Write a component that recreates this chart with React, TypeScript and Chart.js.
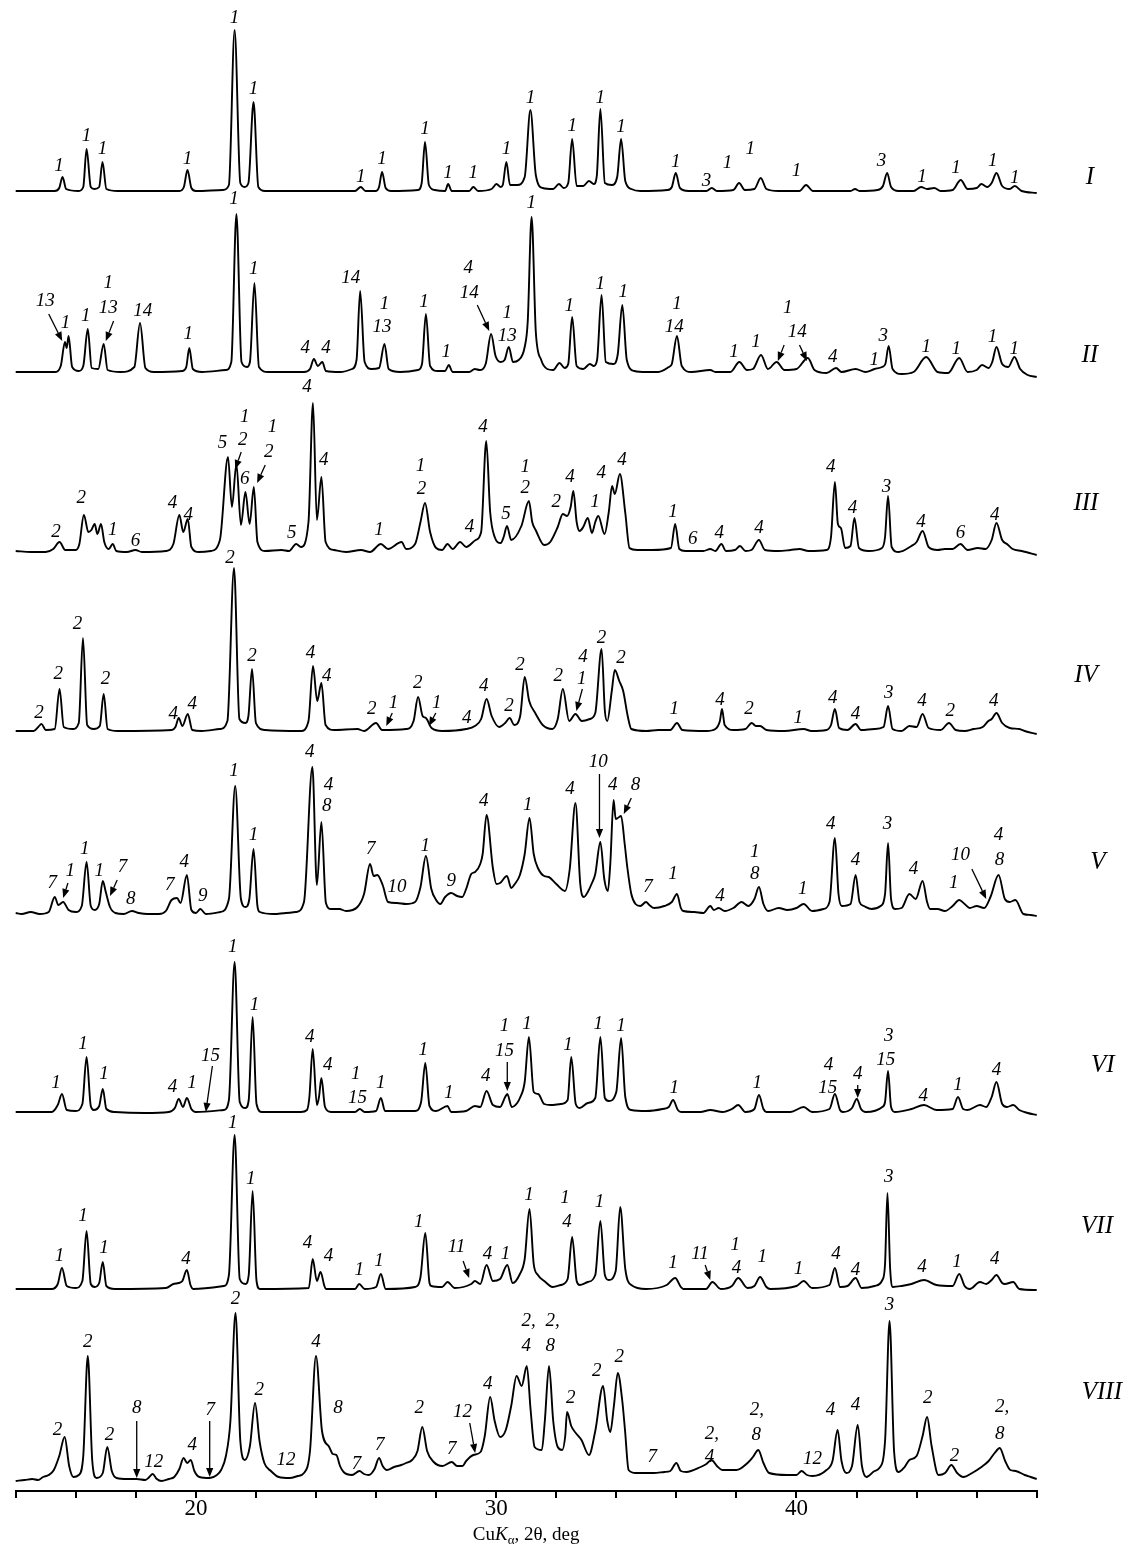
import React, { useEffect, useRef } from 'react';
import { Chart, registerables } from 'chart.js';

Chart.register(...registerables);

type P = [number, number];
type L = [number, number, string];
type A = [number, number, number, number];

// ---------------- data: sample names ----------------
const SAMPLE_NAMES: string[] = ['I', 'II', 'III', 'IV', 'V', 'VI', 'VII', 'VIII'];

// x axis (2θ, deg)
const X_MIN = 14;
const X_MAX = 48;
const X_STEP = 2;
const X_LABELED_TICKS: number[] = [20, 30, 40];

// ---------------- data: traces [2θ, intensity a.u.] ----------------
const TRACE_I: P[] = [[14.0,0],[15.3,0],[15.45,3],[15.56,14],[15.68,2],[16.1,0],[16.25,4],[16.36,42],[16.5,4],[16.62,2],[16.78,4],[16.89,29],[17.02,2],[17.4,0],[19.45,0],[19.6,4],[19.72,21],[19.85,3],[20.0,0],[20.9,1],[21.1,6],[21.29,161],[21.48,8],[21.62,4],[21.75,8],[21.92,89],[22.08,4],[22.3,0],[25.3,0],[25.49,4],[25.65,0],[26.0,0],[26.1,4],[26.2,19],[26.32,3],[26.5,0],[27.4,1],[27.52,8],[27.63,49],[27.76,6],[27.95,1],[28.3,0],[28.4,7],[28.52,0],[29.1,0],[29.24,4],[29.4,0],[29.85,2],[30.01,7],[30.15,4],[30.22,6],[30.34,29],[30.46,6],[30.7,6],[30.95,14],[31.14,81],[31.32,16],[31.55,3],[31.9,2],[32.09,7],[32.25,3],[32.4,8],[32.53,52],[32.68,5],[32.9,5],[33.09,10],[33.25,7],[33.35,15],[33.47,82],[33.62,8],[33.85,6],[34.03,14],[34.16,52],[34.3,10],[34.5,2],[34.8,0],[35.7,1],[35.85,4],[35.98,18],[36.12,3],[36.4,0],[37.0,0],[37.18,3],[37.35,0],[37.9,1],[38.09,8],[38.28,1],[38.6,2],[38.81,13],[39.0,2],[39.4,0],[40.1,0],[40.32,6],[40.55,0],[41.8,0],[41.95,2],[42.1,0],[42.7,1],[42.88,5],[43.02,18],[43.15,4],[43.4,0],[43.9,0],[44.15,4],[44.35,2],[44.59,3],[44.8,0],[45.2,1],[45.47,11],[45.7,2],[46.0,3],[46.16,7],[46.35,4],[46.5,8],[46.66,18],[46.85,5],[47.1,2],[47.27,5],[47.5,0],[48.0,-2]];

const TRACE_II: P[] = [[14.0,0],[15.3,0],[15.5,6],[15.64,30],[15.7,24],[15.76,36],[15.88,5],[16.1,1],[16.25,6],[16.4,43],[16.53,4],[16.75,3],[16.93,28],[17.06,2],[17.5,0],[17.95,5],[18.14,49],[18.32,4],[18.6,0],[19.55,1],[19.68,5],[19.78,24],[19.9,3],[20.2,0],[21.0,2],[21.18,10],[21.35,158],[21.52,10],[21.7,5],[21.8,10],[21.95,89],[22.1,5],[22.4,0],[23.6,0],[23.8,3],[23.93,13],[24.06,6],[24.21,10],[24.33,1],[24.8,0],[25.2,3],[25.35,12],[25.47,81],[25.62,10],[25.85,3],[26.1,4],[26.28,28],[26.42,3],[26.8,0],[27.4,2],[27.53,8],[27.66,58],[27.8,6],[28.05,1],[28.3,1],[28.42,7],[28.55,0],[29.1,0],[29.29,3],[29.45,2],[29.65,8],[29.83,38],[29.98,16],[30.15,10],[30.28,12],[30.42,25],[30.56,10],[30.75,12],[30.95,25],[31.05,50],[31.18,155],[31.32,40],[31.5,12],[31.7,3],[31.9,2],[32.11,9],[32.28,4],[32.4,8],[32.53,55],[32.68,6],[32.9,3],[33.12,8],[33.25,6],[33.36,12],[33.51,77],[33.65,10],[33.9,8],[34.05,18],[34.2,67],[34.35,12],[34.6,1],[35.0,0],[35.4,0],[35.75,5],[35.85,8],[36.02,36],[36.18,6],[36.5,0],[37.13,2],[37.3,0],[37.8,0],[38.1,10],[38.35,2],[38.55,3],[38.82,17],[39.05,3],[39.34,10],[39.6,2],[40.0,3],[40.38,14],[40.6,2],[41.0,-1],[41.32,4],[41.5,0],[41.97,3],[42.3,0],[42.6,3],[42.85,5],[42.96,8],[43.07,26],[43.2,3],[43.5,-2],[43.9,0],[44.32,15],[44.7,0],[45.05,-1],[45.42,14],[45.7,0],[46.0,2],[46.18,7],[46.4,4],[46.52,10],[46.66,25],[46.85,8],[47.05,5],[47.26,15],[47.45,3],[47.7,-3],[48.0,-5]];

const TRACE_III: P[] = [[14.0,1],[14.5,0],[15.0,0],[15.25,3],[15.46,10],[15.65,2],[16.0,2],[16.12,8],[16.27,37],[16.42,20],[16.52,22],[16.63,28],[16.72,18],[16.84,28],[16.95,10],[17.1,3],[17.23,8],[17.35,1],[17.7,0],[17.99,2],[18.2,0],[19.0,1],[19.25,8],[19.45,37],[19.58,20],[19.73,33],[19.85,5],[20.1,0],[20.5,1],[20.8,12],[21.07,95],[21.2,45],[21.35,88],[21.5,27],[21.65,60],[21.79,28],[21.93,65],[22.05,10],[22.3,1],[22.85,2],[23.1,1],[23.34,8],[23.5,5],[23.75,30],[23.9,149],[24.03,32],[24.18,75],[24.32,10],[24.6,2],[25.0,0],[25.5,2],[25.8,0],[26.16,8],[26.4,3],[26.85,10],[27.0,3],[27.3,8],[27.48,30],[27.63,49],[27.8,20],[28.0,4],[28.2,2],[28.38,8],[28.55,3],[28.8,10],[29.0,5],[29.32,12],[29.5,20],[29.67,111],[29.8,40],[29.95,15],[30.15,9],[30.25,15],[30.36,26],[30.5,12],[30.84,26],[31.09,51],[31.2,30],[31.33,21],[31.6,7],[31.8,10],[32.05,25],[32.22,38],[32.36,36],[32.48,45],[32.57,61],[32.68,30],[32.78,21],[32.9,25],[33.05,34],[33.19,19],[33.3,30],[33.4,36],[33.61,18],[33.75,40],[33.86,66],[33.95,58],[34.12,78],[34.3,39],[34.44,4],[34.7,2],[35.2,2],[35.82,4],[35.96,28],[36.1,3],[36.3,1],[36.9,1],[37.13,3],[37.3,1],[37.5,8],[37.65,1],[37.95,2],[38.12,6],[38.3,1],[38.5,2],[38.75,12],[38.95,2],[39.4,1],[39.8,2],[40.1,3],[40.4,1],[41.0,2],[41.15,15],[41.28,70],[41.38,28],[41.48,24],[41.62,4],[41.8,6],[41.93,34],[42.08,4],[42.4,1],[42.85,4],[42.95,15],[43.05,56],[43.17,5],[43.4,0],[43.83,6],[44.0,10],[44.2,21],[44.4,5],[44.7,2],[44.94,3],[45.2,3],[45.46,8],[45.7,2],[46.04,4],[46.3,3],[46.5,12],[46.66,29],[46.85,12],[47.01,8],[47.2,3],[47.5,1],[48.0,-3]];

const TRACE_IV: P[] = [[14.0,0],[14.6,0],[14.75,4],[14.86,7],[15.0,1],[15.3,2],[15.46,42],[15.6,4],[15.9,2],[16.1,8],[16.24,93],[16.38,6],[16.6,2],[16.8,5],[16.93,37],[17.06,2],[17.4,0],[19.2,1],[19.32,4],[19.43,13],[19.55,5],[19.73,17],[19.88,1],[20.2,0],[20.8,2],[21.05,10],[21.27,163],[21.45,12],[21.65,8],[21.75,15],[21.87,62],[22.0,8],[22.3,1],[23.5,0],[23.75,10],[23.9,65],[24.04,30],[24.18,48],[24.32,6],[24.6,1],[25.38,2],[25.6,0],[26.0,8],[26.2,1],[27.0,2],[27.25,10],[27.4,34],[27.55,15],[27.66,13],[27.85,3],[28.2,0],[29.0,2],[29.29,5],[29.5,12],[29.68,32],[29.85,15],[30.1,4],[30.3,8],[30.45,13],[30.6,6],[30.8,15],[30.95,54],[31.1,30],[31.3,18],[31.55,6],[31.87,2],[32.05,12],[32.22,42],[32.43,10],[32.64,17],[32.85,10],[33.12,12],[33.3,18],[33.51,82],[33.62,20],[33.7,10],[33.85,40],[33.95,61],[34.1,50],[34.23,40],[34.38,15],[34.5,2],[35.0,0],[35.4,1],[35.8,1],[36.02,8],[36.2,1],[37.0,0],[37.3,2],[37.45,10],[37.52,22],[37.61,6],[37.9,1],[38.3,2],[38.51,8],[38.65,5],[38.79,5],[39.0,1],[39.6,0],[40.24,2],[40.5,0],[41.0,1],[41.15,6],[41.28,22],[41.42,3],[41.7,1],[41.97,7],[42.15,1],[42.59,2],[42.9,4],[43.05,25],[43.2,2],[43.5,0],[43.76,5],[44.0,4],[44.2,17],[44.4,3],[44.8,1],[45.08,8],[45.3,1],[45.6,0],[45.9,2],[46.2,4],[46.39,10],[46.5,12],[46.66,18],[46.85,8],[47.1,3],[47.42,2],[47.6,0],[48.0,-3]];

const TRACE_V: P[] = [[14.0,1],[14.2,0],[14.5,2],[14.8,0],[15.1,2],[15.3,17],[15.42,9],[15.58,12],[15.76,4],[16.0,2],[16.2,8],[16.36,52],[16.5,8],[16.63,4],[16.78,10],[16.9,33],[17.0,22],[17.14,7],[17.32,1],[17.6,0],[17.87,3],[18.1,1],[18.4,0],[18.77,0],[19.0,3],[19.19,14],[19.37,16],[19.49,11],[19.7,39],[19.85,4],[20.0,1],[20.15,5],[20.33,0],[20.81,2],[21.1,15],[21.31,128],[21.5,15],[21.65,7],[21.78,15],[21.92,65],[22.05,8],[22.13,2],[22.6,0],[23.0,1],[23.33,2],[23.6,12],[23.88,147],[24.03,29],[24.18,92],[24.33,11],[24.5,5],[24.78,5],[25.0,3],[25.38,7],[25.6,20],[25.8,50],[25.92,38],[26.04,39],[26.22,29],[26.4,12],[26.7,11],[27.0,10],[27.3,12],[27.48,27],[27.66,58],[27.84,25],[28.0,14],[28.14,10],[28.3,17],[28.5,21],[28.7,18],[28.87,17],[29.0,25],[29.17,40],[29.3,42],[29.47,50],[29.55,60],[29.68,99],[29.89,46],[30.01,30],[30.13,31],[30.36,38],[30.5,26],[30.62,30],[30.79,39],[30.95,60],[31.11,96],[31.25,60],[31.39,46],[31.6,38],[31.75,37],[32.0,30],[32.29,23],[32.45,45],[32.64,111],[32.8,30],[32.92,17],[33.05,22],[33.19,31],[33.3,40],[33.47,72],[33.6,35],[33.72,23],[33.8,50],[33.91,114],[33.98,95],[34.05,96],[34.16,98],[34.28,70],[34.37,46],[34.5,20],[34.64,10],[34.8,8],[34.99,12],[35.1,9],[35.26,6],[35.6,8],[35.85,12],[36.02,20],[36.15,6],[36.23,3],[36.6,2],[36.9,1],[37.13,8],[37.25,4],[37.41,6],[37.61,3],[37.9,6],[38.17,12],[38.4,8],[38.6,15],[38.75,27],[38.9,10],[39.06,3],[39.41,6],[39.7,4],[40.0,6],[40.24,10],[40.52,3],[40.9,5],[41.1,12],[41.28,76],[41.4,20],[41.51,8],[41.8,10],[41.97,39],[42.1,12],[42.24,8],[42.5,5],[42.8,8],[42.95,20],[43.05,71],[43.15,15],[43.28,5],[43.5,6],[43.76,20],[43.97,15],[44.2,33],[44.35,12],[44.45,5],[44.7,5],[44.94,3],[45.2,8],[45.42,14],[45.6,10],[45.77,6],[46.0,8],[46.25,6],[46.46,17],[46.73,39],[46.94,15],[47.1,12],[47.29,14],[47.56,0],[47.8,-1],[48.0,-2]];

const TRACE_VI: P[] = [[14.0,0],[15.2,0],[15.4,7],[15.54,18],[15.7,2],[16.0,1],[16.22,8],[16.36,55],[16.5,6],[16.6,2],[16.78,6],[16.9,23],[17.02,3],[17.3,0],[18.29,-1],[19.1,0],[19.3,4],[19.43,13],[19.57,5],[19.7,14],[19.85,3],[20.0,0],[20.93,2],[21.1,12],[21.29,150],[21.46,10],[21.65,4],[21.76,12],[21.89,95],[22.02,8],[22.2,0],[23.5,0],[23.7,2],[23.78,15],[23.89,63],[24.03,7],[24.1,15],[24.18,34],[24.3,5],[24.5,0],[25.3,0],[25.46,3],[25.62,0],[26.0,1],[26.16,14],[26.3,1],[27.3,1],[27.5,10],[27.64,49],[27.78,6],[28.0,1],[28.38,6],[28.5,0],[29.0,1],[29.29,6],[29.47,5],[29.68,21],[29.89,7],[30.13,5],[30.3,15],[30.37,18],[30.52,5],[30.7,9],[30.79,14],[30.95,30],[31.09,75],[31.25,20],[31.4,18],[31.6,8],[31.81,7],[32.15,8],[32.38,12],[32.5,55],[32.65,8],[32.78,4],[33.05,9],[33.3,14],[33.47,75],[33.62,14],[33.75,11],[34.0,20],[34.16,74],[34.3,15],[34.5,2],[35.0,1],[35.54,3],[35.75,5],[35.89,12],[36.05,2],[36.16,0],[36.8,0],[37.13,2],[37.54,0],[37.85,3],[38.06,7],[38.3,0],[38.6,3],[38.75,17],[38.9,3],[39.0,0],[39.8,0],[40.24,5],[40.52,0],[41.1,3],[41.28,18],[41.45,2],[41.55,0],[41.85,4],[42.01,13],[42.15,3],[42.31,0],[42.86,5],[42.95,10],[43.05,41],[43.15,5],[43.28,0],[43.83,3],[44.25,7],[44.66,2],[45.2,3],[45.38,15],[45.55,3],[45.7,2],[46.11,7],[46.32,5],[46.5,15],[46.66,30],[46.85,8],[47.01,5],[47.22,7],[47.42,2],[47.7,-1],[48.0,-3]];

const TRACE_VII: P[] = [[14.0,0],[15.2,0],[15.4,5],[15.54,21],[15.7,3],[16.0,1],[16.22,8],[16.36,58],[16.5,5],[16.63,2],[16.78,6],[16.9,27],[17.02,3],[17.3,0],[19.0,1],[19.25,5],[19.43,6],[19.55,8],[19.7,19],[19.82,4],[19.91,0],[20.93,3],[21.1,14],[21.29,154],[21.46,10],[21.65,5],[21.76,14],[21.89,98],[22.02,8],[22.13,0],[23.76,1],[23.89,30],[24.03,8],[24.15,17],[24.28,3],[24.33,0],[25.3,0],[25.44,5],[25.62,0],[26.0,2],[26.16,15],[26.32,0],[27.3,2],[27.48,12],[27.64,56],[27.78,6],[27.84,3],[28.2,2],[28.38,7],[28.62,1],[29.17,5],[29.29,8],[29.47,5],[29.68,24],[29.89,8],[30.13,10],[30.37,24],[30.55,6],[30.79,15],[30.95,30],[31.11,80],[31.25,25],[31.39,14],[31.6,8],[31.88,2],[32.15,4],[32.38,10],[32.53,52],[32.68,8],[32.78,4],[33.05,7],[33.3,14],[33.47,68],[33.62,14],[33.75,9],[33.98,18],[34.13,82],[34.3,20],[34.5,4],[34.99,0],[35.68,4],[35.96,11],[36.15,2],[36.23,0],[36.99,0],[37.2,7],[37.48,0],[37.85,3],[38.06,11],[38.37,1],[38.6,3],[38.79,12],[39.0,2],[39.13,0],[40.0,3],[40.24,8],[40.52,1],[41.1,4],[41.28,21],[41.45,2],[41.7,3],[41.97,11],[42.17,1],[42.6,3],[42.86,9],[42.95,25],[43.03,96],[43.12,20],[43.21,2],[43.5,3],[43.83,5],[44.25,9],[44.66,4],[45.2,3],[45.42,15],[45.6,3],[45.77,0],[46.11,7],[46.32,5],[46.5,9],[46.66,14],[46.85,6],[46.94,5],[47.22,7],[47.42,0],[48.0,-1]];

const TRACE_VIII: P[] = [[14.0,0],[14.3,1],[14.55,2],[14.75,1],[14.91,4],[15.1,6],[15.27,11],[15.45,25],[15.63,44],[15.78,15],[15.92,4],[16.1,6],[16.25,25],[16.4,125],[16.55,20],[16.69,3],[16.9,8],[17.05,34],[17.2,10],[17.36,3],[17.72,2],[18.03,2],[18.32,1],[18.45,4],[18.56,7],[18.7,2],[18.85,0],[19.1,2],[19.28,4],[19.45,12],[19.59,23],[19.71,18],[19.83,21],[19.95,10],[20.12,4],[20.46,3],[20.7,6],[20.84,11],[21.0,25],[21.15,60],[21.32,168],[21.48,40],[21.63,21],[21.8,35],[21.97,78],[22.12,40],[22.28,18],[22.5,10],[22.76,4],[23.12,3],[23.4,5],[23.6,8],[23.8,30],[24.0,125],[24.2,50],[24.44,34],[24.56,27],[24.68,26],[24.8,15],[24.92,9],[25.2,6],[25.45,10],[25.6,7],[25.76,6],[25.95,12],[26.1,23],[26.22,15],[26.36,11],[26.6,14],[26.84,16],[27.0,18],[27.2,21],[27.38,30],[27.54,54],[27.7,30],[27.92,19],[28.21,15],[28.52,19],[28.7,15],[28.88,15],[29.0,20],[29.24,26],[29.48,29],[29.62,45],[29.8,84],[29.95,60],[30.13,44],[30.32,51],[30.5,75],[30.68,105],[30.85,95],[31.02,115],[31.15,70],[31.28,34],[31.52,31],[31.62,60],[31.76,115],[31.9,60],[32.05,34],[32.2,31],[32.3,45],[32.36,69],[32.5,55],[32.65,48],[32.84,41],[33.09,26],[33.3,50],[33.56,95],[33.7,60],[33.8,49],[33.92,75],[34.05,108],[34.2,80],[34.29,51],[34.41,11],[34.65,8],[35.25,8],[35.6,9],[35.8,10],[36.0,18],[36.15,10],[36.33,9],[36.81,14],[37.0,17],[37.17,21],[37.35,15],[37.53,11],[38.0,11],[38.37,18],[38.55,24],[38.73,31],[38.9,18],[39.09,8],[39.69,6],[40.0,6],[40.17,10],[40.35,6],[40.53,5],[41.0,11],[41.2,20],[41.37,51],[41.5,20],[41.66,8],[41.85,15],[42.04,56],[42.18,15],[42.33,4],[42.6,10],[42.76,13],[42.95,40],[43.1,160],[43.25,30],[43.4,9],[43.6,14],[43.76,21],[44.0,25],[44.2,45],[44.35,64],[44.5,35],[44.73,6],[44.95,8],[45.16,16],[45.35,8],[45.56,4],[45.85,8],[46.16,14],[46.4,20],[46.6,28],[46.77,33],[46.95,20],[47.12,11],[47.3,10],[47.6,6],[47.8,4],[48.0,2]];

// ---------------- data: phase labels [2θ, intensity, text] ----------------
const LABELS_I: L[] = [[15.44,25,'1'],[16.36,55,'1'],[16.89,42,'1'],[19.72,32,'1'],[21.29,173,'1'],[21.92,102,'1'],[25.49,14,'1'],[26.2,32,'1'],[27.63,62,'1'],[28.4,18,'1'],[29.24,18,'1'],[30.34,42,'1'],[31.14,93,'1'],[32.53,65,'1'],[33.47,93,'1'],[34.16,64,'1'],[35.98,29,'1'],[37.0,10,'3'],[37.7,28,'1'],[38.46,42,'1'],[40.0,20,'1'],[42.83,30,'3'],[44.18,14,'1'],[45.31,23,'1'],[46.54,30,'1'],[47.27,13,'1']];
const LABELS_II: L[] = [[14.98,71,'13'],[15.66,49,'1'],[16.33,56,'1'],[17.08,89,'1'],[17.08,64,'13'],[18.23,61,'14'],[19.75,38,'1'],[21.27,173,'1'],[21.93,103,'1'],[23.64,24,'4'],[24.33,24,'4'],[25.16,94,'14'],[26.28,68,'1'],[26.2,45,'13'],[27.6,70,'1'],[28.34,20,'1'],[29.07,104,'4'],[29.1,79,'14'],[30.37,59,'1'],[30.37,36,'13'],[31.17,169,'1'],[32.43,66,'1'],[33.47,88,'1'],[34.23,80,'1'],[36.02,68,'1'],[35.93,45,'14'],[37.92,20,'1'],[38.65,30,'1'],[39.71,64,'1'],[40.03,40,'14'],[41.21,15,'4'],[42.59,12,'1'],[42.89,36,'3'],[44.32,25,'1'],[45.32,23,'1'],[46.53,35,'1'],[47.25,23,'1']];
const LABELS_III: L[] = [[15.34,20,'2'],[16.18,54,'2'],[17.23,22,'1'],[17.99,11,'6'],[19.22,49,'4'],[19.75,37,'4'],[20.89,109,'5'],[21.63,135,'1'],[21.56,112,'2'],[21.63,73,'6'],[22.55,125,'1'],[22.43,100,'2'],[23.19,19,'5'],[23.7,165,'4'],[24.26,92,'4'],[26.1,22,'1'],[27.48,86,'1'],[27.51,63,'2'],[29.11,25,'4'],[29.56,125,'4'],[30.33,38,'5'],[30.97,85,'1'],[30.97,64,'2'],[32.0,50,'2'],[32.46,75,'4'],[33.29,50,'1'],[33.5,79,'4'],[34.19,92,'4'],[35.89,40,'1'],[36.55,13,'6'],[37.43,19,'4'],[38.75,24,'4'],[41.14,85,'4'],[41.87,44,'4'],[43.0,65,'3'],[44.15,30,'4'],[45.46,19,'6'],[46.6,37,'4']];
const LABELS_IV: L[] = [[14.78,18,'2'],[15.42,57,'2'],[16.06,107,'2'],[16.99,52,'2'],[19.25,17,'4'],[19.88,27,'4'],[21.14,173,'2'],[21.87,75,'2'],[23.82,78,'4'],[24.36,55,'4'],[25.86,22,'2'],[26.58,28,'1'],[27.39,48,'2'],[28.02,28,'1'],[29.02,13,'4'],[29.59,45,'4'],[30.43,25,'2'],[30.79,66,'2'],[32.07,55,'2'],[32.89,74,'4'],[32.85,52,'1'],[33.51,93,'2'],[34.16,73,'2'],[35.93,22,'1'],[37.45,31,'4'],[38.42,22,'2'],[40.06,13,'1'],[41.21,33,'4'],[41.97,17,'4'],[43.07,38,'3'],[44.18,30,'4'],[45.12,20,'2'],[46.57,30,'4']];
const LABELS_V: L[] = [[15.22,31,'7'],[15.82,43,'1'],[16.3,65,'1'],[16.78,43,'1'],[17.56,47,'7'],[17.83,15,'8'],[19.13,29,'7'],[19.61,52,'4'],[20.23,18,'9'],[21.27,143,'1'],[21.92,79,'1'],[23.79,162,'4'],[24.42,129,'4'],[24.36,108,'8'],[25.82,65,'7'],[26.7,27,'10'],[27.64,68,'1'],[28.5,33,'9'],[29.59,113,'4'],[31.05,109,'1'],[32.46,125,'4'],[33.4,152,'10'],[33.88,129,'4'],[34.64,129,'8'],[35.06,27,'7'],[35.89,40,'1'],[37.45,18,'4'],[38.61,62,'1'],[38.61,40,'8'],[40.21,25,'1'],[41.14,90,'4'],[41.97,54,'4'],[43.03,90,'3'],[43.9,45,'4'],[45.24,31,'1'],[45.46,59,'10'],[46.73,79,'4'],[46.76,54,'8']];
const LABELS_VI: L[] = [[15.34,29,'1'],[16.24,68,'1'],[16.94,38,'1'],[19.22,25,'4'],[19.87,29,'1'],[20.49,56,'15'],[21.23,165,'1'],[21.95,107,'1'],[23.79,75,'4'],[24.39,47,'4'],[25.32,38,'1'],[25.38,14,'15'],[26.16,29,'1'],[27.57,62,'1'],[28.42,19,'1'],[29.65,36,'4'],[30.28,86,'1'],[30.28,61,'15'],[31.03,88,'1'],[32.39,67,'1'],[33.4,88,'1'],[34.16,86,'1'],[35.93,24,'1'],[38.69,29,'1'],[41.07,47,'4'],[41.04,24,'15'],[42.04,38,'4'],[43.07,76,'3'],[42.97,52,'15'],[44.22,16,'4'],[45.38,27,'1'],[46.66,42,'4']];
const LABELS_VII: L[] = [[15.46,33,'1'],[16.24,73,'1'],[16.94,41,'1'],[19.67,30,'4'],[21.23,166,'1'],[21.83,110,'1'],[23.72,46,'4'],[24.42,33,'4'],[25.44,19,'1'],[26.1,28,'1'],[27.42,67,'1'],[28.68,42,'11'],[29.71,35,'4'],[30.31,35,'1'],[31.09,94,'1'],[32.29,91,'1'],[32.36,67,'4'],[33.44,87,'1'],[35.89,26,'1'],[36.79,35,'11'],[37.96,44,'1'],[38.0,21,'4'],[38.86,32,'1'],[40.07,20,'1'],[41.32,35,'4'],[41.97,19,'4'],[43.07,112,'3'],[44.18,22,'4'],[45.35,27,'1'],[46.6,30,'4']];
const LABELS_VIII: L[] = [[15.39,51,'2'],[16.4,139,'2'],[17.12,46,'2'],[18.03,73,'8'],[18.6,19,'12'],[19.88,36,'4'],[20.48,71,'7'],[21.32,182,'2'],[22.11,91,'2'],[23.0,21,'12'],[24.0,139,'4'],[24.73,73,'8'],[25.35,17,'7'],[26.12,36,'7'],[27.44,73,'2'],[28.52,32,'7'],[28.88,69,'12'],[29.72,97,'4'],[31.0,160,'2,'],[31.0,135,'4'],[31.8,160,'2,'],[31.8,135,'8'],[32.48,83,'2'],[33.35,110,'2'],[34.1,124,'2'],[35.2,24,'7'],[37.1,47,'2,'],[37.1,24,'4'],[38.6,71,'2,'],[38.66,46,'8'],[40.53,22,'12'],[41.13,71,'4'],[41.97,76,'4'],[43.1,176,'3'],[44.37,83,'2'],[45.26,25,'2'],[46.77,74,'2,'],[46.77,47,'8']];

// ---------------- data: arrows [x1, y1, x2, y2] in (2θ, intensity) ----------------
const ARROWS_I: A[] = [];
const ARROWS_II: A[] = [[15.1,58,15.55,31],[17.26,51,17.0,31],[29.37,67,29.77,41],[39.59,27,39.38,11],[40.1,27,40.35,11]];
const ARROWS_III: A[] = [[21.51,100,21.31,83],[22.31,87,22.04,69]];
const ARROWS_IV: A[] = [[26.54,18,26.34,5],[27.99,18,27.76,5],[32.87,42,32.67,20]];
const ARROWS_V: A[] = [[15.74,31,15.58,16],[17.38,34,17.14,18],[33.44,140,33.44,76],[34.5,116,34.25,100],[45.84,45,46.32,15]];
const ARROWS_VI: A[] = [[20.55,46,20.33,0],[30.37,50,30.37,21],[42.04,27,42.04,14]];
const ARROWS_VII: A[] = [[28.9,28,29.1,11],[36.96,24,37.13,9]];
const ARROWS_VIII: A[] = [[18.03,60,18.03,3],[20.46,60,20.46,4],[29.12,58,29.3,28]];

const TRACES: P[][] = [TRACE_I, TRACE_II, TRACE_III, TRACE_IV, TRACE_V, TRACE_VI, TRACE_VII, TRACE_VIII];
const LABELS: L[][] = [LABELS_I, LABELS_II, LABELS_III, LABELS_IV, LABELS_V, LABELS_VI, LABELS_VII, LABELS_VIII];
const ARROWS: A[][] = [ARROWS_I, ARROWS_II, ARROWS_III, ARROWS_IV, ARROWS_V, ARROWS_VI, ARROWS_VII, ARROWS_VIII];

// ---------------- layout (not data) ----------------
const W = 1131;
const H = 1546;
const AXIS_H = 55;
const PLOT_BOTTOM = H - AXIS_H;
const BASELINE_Y = [191, 372, 552, 731, 914, 1112, 1289, 1481];
const NAME_POS: [number, number][] = [[49.77, 14], [49.77, 17], [49.64, 49], [49.64, 56], [50.04, 52], [50.2, 47], [50.01, 63], [50.17, 89]];
const SERIF = '"Liberation Serif", "Times New Roman", serif';

function drawArrow(ctx: CanvasRenderingContext2D, x1: number, y1: number, x2: number, y2: number) {
  const ang = Math.atan2(y2 - y1, x2 - x1);
  const hl = 9, hw = 3.6;
  const bx = x2 - hl * Math.cos(ang);
  const by = y2 - hl * Math.sin(ang);
  ctx.beginPath();
  ctx.moveTo(x1, y1);
  ctx.lineTo(bx, by);
  ctx.lineWidth = 1.3;
  ctx.stroke();
  ctx.beginPath();
  ctx.moveTo(x2, y2);
  ctx.lineTo(bx + hw * Math.sin(ang), by - hw * Math.cos(ang));
  ctx.lineTo(bx - hw * Math.sin(ang), by + hw * Math.cos(ang));
  ctx.closePath();
  ctx.fill();
}

export default function App() {
  const ref = useRef<HTMLCanvasElement | null>(null);

  useEffect(() => {
    const canvas = ref.current;
    if (!canvas) return;
    const offsets = BASELINE_Y.map((b) => PLOT_BOTTOM - b);

    const datasets = TRACES.map((tr, i) => ({
      label: SAMPLE_NAMES[i],
      data: tr.map(([x, h]) => ({ x, y: h + offsets[i] })),
      borderColor: '#000',
      borderWidth: 1.9,
      pointRadius: 0,
      fill: false,
      cubicInterpolationMode: 'monotone' as const,
      clip: false as any,
    }));

    const annot = {
      id: 'annot',
      afterDatasetsDraw(chart: any) {
        const ctx: CanvasRenderingContext2D = chart.ctx;
        const xs = chart.scales.x;
        const ys = chart.scales.y;
        ctx.save();
        ctx.fillStyle = '#000';
        ctx.strokeStyle = '#000';
        ctx.font = `italic 19px ${SERIF}`;
        ctx.textBaseline = 'middle';
        LABELS.forEach((labs, i) => {
          labs.forEach(([x, h, t]) => {
            const px = xs.getPixelForValue(x);
            const py = ys.getPixelForValue(h + offsets[i]);
            if (t.endsWith(',')) {
              const w = ctx.measureText(t.slice(0, -1)).width;
              ctx.textAlign = 'left';
              ctx.fillText(t, px - w / 2, py);
            } else {
              ctx.textAlign = 'center';
              ctx.fillText(t, px, py);
            }
          });
        });
        ARROWS.forEach((arr, i) => {
          arr.forEach(([x1, h1, x2, h2]) => {
            drawArrow(ctx, xs.getPixelForValue(x1), ys.getPixelForValue(h1 + offsets[i]), xs.getPixelForValue(x2), ys.getPixelForValue(h2 + offsets[i]));
          });
        });
        // sample names
        ctx.font = `italic 25px ${SERIF}`;
        ctx.textAlign = 'center';
        SAMPLE_NAMES.forEach((n, i) => {
          const [x, h] = NAME_POS[i];
          ctx.fillText(n, xs.getPixelForValue(x), ys.getPixelForValue(h + offsets[i]));
        });
        // axis title: CuKα, 2θ, deg
        const parts: [string, string, number][] = [
          ['Cu', `19px ${SERIF}`, 0],
          ['K', `italic 19px ${SERIF}`, 0],
          ['α', `13px ${SERIF}`, 4],
          [', 2θ, deg', `19px ${SERIF}`, 0],
        ];
        let total = 0;
        parts.forEach(([s, f]) => { ctx.font = f; total += ctx.measureText(s).width; });
        let cx = (xs.left + xs.right) / 2 - total / 2;
        const base = 1540;
        ctx.textAlign = 'left';
        ctx.textBaseline = 'alphabetic';
        parts.forEach(([s, f, dy]) => {
          ctx.font = f;
          ctx.fillText(s, cx, base + dy);
          cx += ctx.measureText(s).width;
        });
        ctx.restore();
      },
    };

    const chart = new Chart(canvas, {
      type: 'line',
      data: { datasets: datasets as any },
      options: {
        animation: false,
        responsive: false,
        devicePixelRatio: 1,
        events: [],
        layout: { padding: { left: 15.7, right: W - 1036.7, top: 0, bottom: 0 } },
        plugins: { legend: { display: false }, tooltip: { enabled: false } },
        scales: {
          x: {
            type: 'linear',
            position: 'bottom',
            min: X_MIN,
            max: X_MAX,
            afterFit: (s: any) => { s.height = AXIS_H; },
            ticks: {
              stepSize: X_STEP,
              autoSkip: false,
              maxRotation: 0,
              padding: -3,
              color: '#000',
              font: { family: SERIF, size: 23 },
              callback: (v: any) => (X_LABELED_TICKS.includes(Number(v)) ? String(v) : ''),
            },
            grid: { drawOnChartArea: false, drawTicks: true, tickLength: 7, color: '#000', lineWidth: 2 },
            border: { display: true, color: '#000', width: 2 },
          },
          y: { display: false, min: 0, max: PLOT_BOTTOM },
        },
      } as any,
      plugins: [annot],
    });
    return () => chart.destroy();
  }, []);

  return (
    <div style={{ position: 'absolute', left: 0, top: 0, width: W, height: H, background: '#fff' }}>
      <canvas ref={ref} width={W} height={H} style={{ display: 'block', width: W, height: H }} />
    </div>
  );
}
